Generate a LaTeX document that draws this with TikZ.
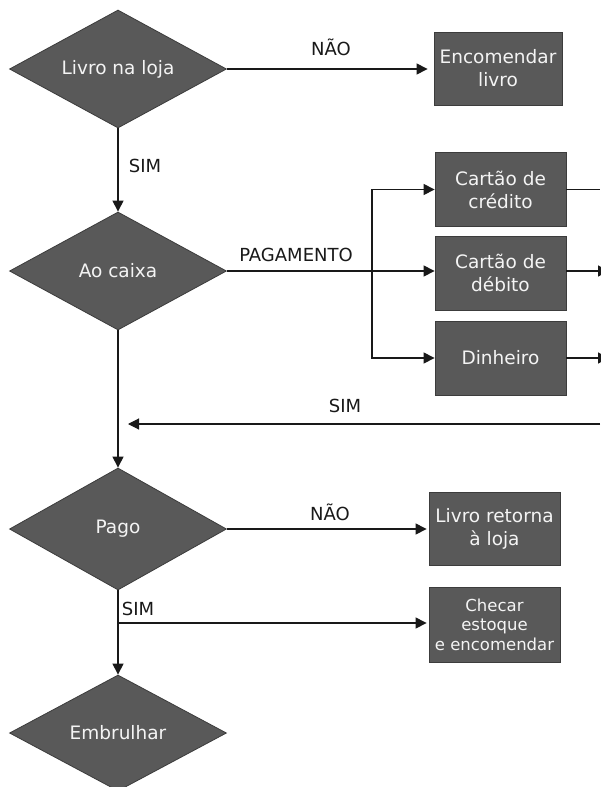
\documentclass[tikz,border=0pt]{standalone}
\usepackage{fontspec}
\setmainfont{DejaVu Sans}
\usetikzlibrary{arrows.meta,shapes.geometric}

\definecolor{shapefill}{HTML}{595959}
\definecolor{shapeedge}{HTML}{3C3C3C}
\definecolor{shapetext}{HTML}{F4F4F4}

\tikzset{
  decision/.style={diamond, draw=shapeedge, line width=0.8pt, fill=shapefill,
    text=shapetext, inner sep=0pt, aspect=1.8,
    minimum width=217pt, minimum height=118pt,
    font=\fontsize{18.5}{22}\selectfont},
  action/.style={rectangle, draw=shapeedge, line width=0.8pt, fill=shapefill,
    text=shapetext, inner sep=0pt, align=center,
    minimum width=130pt, minimum height=73pt,
    font=\fontsize{18.5}{23}\selectfont},
  smallaction/.style={action, font=\fontsize{16.5}{19.5}\selectfont},
  flow/.style={draw=black!90, line width=1.1pt},
  arr/.style={flow, -{Triangle[length=11pt,width=11pt]}},
  lbl/.style={text=black!90, font=\fontsize{18}{22}\selectfont, inner sep=0pt},
}

\begin{document}
\begin{tikzpicture}[x=1pt,y=-1pt]
\useasboundingbox[fill=white] (0,0) rectangle (600,787);

% decisions on the main column
\node[decision] (d1) at (118,69)  {Livro na loja};
\node[decision] (d2) at (118,271) {Ao caixa};
\node[decision, minimum height=122pt] (d3) at (118,529) {Pago};
\node[decision, minimum height=116pt] (d4) at (118,733) {Embrulhar};

% actions on the right
\node[action, minimum width=128pt] (enc) at (498,68.5) {Encomendar\\livro};
\node[action, minimum width=131pt, minimum height=74pt] (cc) at (500.5,189.5) {Cartão de\\crédito};
\node[action, minimum width=131pt, minimum height=74pt] (cd) at (500.5,273) {Cartão de\\débito};
\node[action, minimum width=131pt, minimum height=74pt] (din) at (500.5,358) {Dinheiro};
\node[action, minimum width=131pt] (ret) at (494.5,528.5) {Livro retorna\\à loja};
\node[smallaction, minimum width=131pt, minimum height=75pt] (chk) at (494.5,624.5) {Checar\\estoque\\e encomendar};

% junction points and free ends
\coordinate (split) at (372,271);
\coordinate (ccout) at (600,189.5);
\coordinate (cdout) at (609,271);
\coordinate (dinout) at (609,358);
\coordinate (back) at (600,424);
\coordinate (backend) at (128,424);
\coordinate (fork) at (118,623);

% book in stock?
\draw[arr, shorten >=6pt] (d1.east) -- (d1.east -| enc.west);
\draw[arr] (d1.south) -- (d2.north);

% payment branches
\draw[flow] (d2.east) -- (split);
\draw[arr] (split) -- (split -| cd.west);
\draw[arr] (split) |- (cc.west);
\draw[arr] (split) |- (din.west);
\draw[flow] (cc.east) -- (ccout);
\draw[arr] (cdout -| cd.east) -- (cdout);
\draw[arr] (din.east) -- (dinout);

% return from payment
\draw[arr] (back) -- (backend);
\draw[arr] (d2.south) -- (d3.north);

% paid?
\draw[arr, shorten >=2pt] (d3.east) -- (d3.east -| ret.west);
\draw[arr] (d3.south) -- (d4.north);
\draw[arr, shorten >=2pt] (fork) -- (fork -| chk.west);

% edge labels
\node[lbl] (l1) at (331,47)  {NÃO};
\node[lbl] (l2) at (145,166) {SIM};
\node[lbl] (l3) at (296,255) {PAGAMENTO};
\node[lbl] (l4) at (345,406) {SIM};
\node[lbl] (l5) at (330,512) {NÃO};
\node[lbl] (l6) at (138,609) {SIM};
\end{tikzpicture}
\end{document}
